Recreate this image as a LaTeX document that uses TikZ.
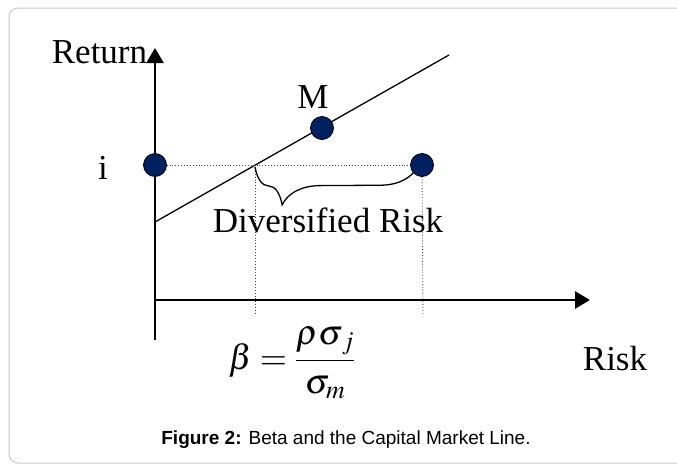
\documentclass[tikz,border=0pt]{standalone}
\usepackage{amsmath, amssymb}
\usepackage{mathptmx}
\usepackage{fontspec}
\setmainfont{Liberation Serif}
\newfontfamily\capfont{Liberation Sans}
\usepackage{tikz}
\usetikzlibrary{arrows.meta,positioning,calc,decorations.pathreplacing}
\definecolor{DotNavy}{RGB}{0, 32, 96}
\definecolor{FrameGray}{RGB}{200, 200, 200}

\begin{document}
\begin{tikzpicture}[x=1pt, y=1pt,
    axis/.style={line width=2.8pt, -{Triangle[length=15pt,width=17pt]}},
    guide/.style={dotted, line width=0.9pt, black!75},
    dot/.style={circle, draw=black, line width=0.8pt, fill=DotNavy, minimum size=23pt, inner sep=0pt},
    lbl/.style={inner sep=0pt, font=\fontsize{35}{40}\selectfont}]
    \useasboundingbox (0,0) rectangle (677,-464);
    \begin{scope}
      \clip (0,0) rectangle (677,-464);
      \draw[FrameGray, line width=1pt, rounded corners=9pt] (9,-8) rectangle (700,-463);
    \end{scope}
    \coordinate (ybot) at (155,-340);
    \coordinate (ytop) at (155,-48);
    \coordinate (xl) at (155,-300);
    \coordinate (xr) at (590,-300);
    \coordinate (cml0) at (155,-222);
    \coordinate (cml1) at (449,-55);
    \coordinate (iP) at (155,-165);
    \coordinate (mP) at (322,-128);
    \coordinate (jP) at (422,-165);
    \coordinate (cut) at (255,-165);
    \coordinate (cutb) at (255,-315);
    \coordinate (jPb) at (423,-315);
    \draw[axis] (ybot) -- (ytop);
    \draw[axis] (xl) -- (xr);
    \draw[line width=1.3pt] (cml0) -- (cml1);
    \draw[guide] (iP) -- (jP);
    \draw[guide] (cut) -- (cutb);
    \draw[guide] (jP) -- (jPb);
    \draw[line width=1.3pt, decorate, decoration={brace, mirror, amplitude=38pt, aspect=0.165}]
      ($(cut)+(0,-2)$) -- ($(jP)+(-4,-1)$);
    \node[dot] (i) at (iP) {};
    \node[dot] (M) at (mP) {};
    \node[dot] (j) at (jP) {};
    \node[lbl] (ret) at (99.5,-52.5) {Return};
    \node[lbl] (mlbl) at (313,-97.5) {M};
    \node[lbl] (ilbl) at (103,-167.5) {i};
    \node[lbl] (div) at (328,-220) {Diversified Risk};
    \node[lbl] (risk) at (615,-359) {Risk};
    \node[lbl] (beta) at (292,-363) {$\displaystyle\beta=\frac{\rho\sigma_{\,j}}{\sigma_m}$};
    \node[inner sep=0pt, font=\capfont\fontsize{19}{22}\selectfont] (cap) at (346,-440)
      {\textbf{Figure 2:} Beta and the Capital Market Line.};
  \end{tikzpicture}
\end{document}
